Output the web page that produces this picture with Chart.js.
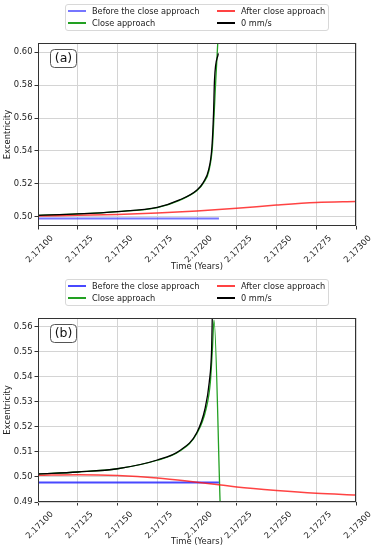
<!DOCTYPE html>
<html>
<head>
<meta charset="utf-8">
<script src="https://cdn.jsdelivr.net/npm/chart.js@4.4.0/dist/chart.umd.min.js"></script>
<style>
  body { margin: 0; background: #fff; font-family: 'DejaVu Sans', sans-serif; }
  .panel { position: absolute; left: 0; width: 371px; height: 275px; }
  .panel canvas { position: absolute; left: 0; top: 0; }
  .legend {
    position: absolute; left: 65px; top: 4px; width: 264px; height: 27px;
    box-sizing: border-box; border: 1px solid #d8d8d8; border-radius: 3px;
    background: rgba(255,255,255,0.85); padding: 0 0 0 2px;
    display: grid; grid-template-columns: 149px auto; grid-template-rows: 12px 12px;
    grid-auto-flow: column; font-size: 8.2px; color: #222; z-index: 2;
  }
  .legend .item { display: flex; align-items: center; white-space: nowrap; }
  .legend i { display: inline-block; width: 18px; height: 1.5px; margin-right: 6px; }
</style>
</head>
<body>
<div class="panel" style="top:0"><div class="legend" id="legA"></div><canvas id="chartA" width="371" height="275"></canvas></div>
<div class="panel" style="top:275px"><div class="legend" id="legB"></div><canvas id="chartB" width="371" height="275"></canvas></div>
<script>
// tick labels
const xTicks = [2.17100, 2.17125, 2.17150, 2.17175, 2.17200, 2.17225, 2.17250, 2.17275, 2.17300];
const yTicksA = [0.50, 0.52, 0.54, 0.56, 0.58, 0.60];
const yTicksB = [0.49, 0.50, 0.51, 0.52, 0.53, 0.54, 0.55, 0.56];

// (a)
const tBeforeA = [2.17100, 2.17150, 2.17200, 2.172138];
const eBeforeA = [0.4990, 0.4990, 0.4990, 0.4990];
const tCloseA = [2.17100, 2.17125, 2.17150, 2.17175, 2.17189, 2.17200, 2.17204, 2.172075, 2.172097, 2.172108, 2.172118, 2.172136];
const eCloseA = [0.5010, 0.5018, 0.5032, 0.5057, 0.5101, 0.5160, 0.5205, 0.5280, 0.5426, 0.5628, 0.5830, 0.6150];
const tAfterA = [2.17100, 2.17125, 2.17150, 2.17175, 2.17200, 2.17225, 2.17250, 2.17275, 2.17300];
const eAfterA = [0.5005, 0.5010, 0.5015, 0.5024, 0.5036, 0.5052, 0.5072, 0.5088, 0.5094];
const tZeroA = [2.17100, 2.17125, 2.17150, 2.17175, 2.17189, 2.17200, 2.17204, 2.172073, 2.172094, 2.172104, 2.17211, 2.172134];
const eZeroA = [0.5010, 0.5018, 0.5032, 0.5058, 0.5103, 0.5164, 0.5210, 0.5285, 0.5426, 0.5628, 0.5830, 0.5992];

// (b)
const tBeforeB = [2.17100, 2.17150, 2.17200, 2.172138];
const eBeforeB = [0.4978, 0.4978, 0.4978, 0.4978];
const tCloseB = [2.17100, 2.17125, 2.17150, 2.17175, 2.17189, 2.17200, 2.172057, 2.172084, 2.172097, 2.172107, 2.172146];
const eCloseB = [0.5012, 0.5020, 0.5033, 0.5067, 0.5103, 0.5175, 0.5272, 0.5379, 0.5512, 0.5627, 0.4885];
const tAfterB = [2.17100, 2.17125, 2.17150, 2.17175, 2.17200, 2.17215, 2.17225, 2.17250, 2.17275, 2.17300];
const eAfterB = [0.5007, 0.5009, 0.5006, 0.4996, 0.4979, 0.4968, 0.4960, 0.4946, 0.4935, 0.4928];
const tZeroB = [2.17100, 2.17125, 2.17150, 2.17175, 2.17189, 2.17200, 2.17205, 2.172077, 2.172092, 2.172096, 2.17210];
const eZeroB = [0.5012, 0.5020, 0.5033, 0.5068, 0.5105, 0.5179, 0.5272, 0.5379, 0.5512, 0.5636, 0.5700];

Chart.defaults.font.family = "'DejaVu Sans', sans-serif";
Chart.defaults.font.size = 8.4;
Chart.defaults.color = '#222';

const pts = (t, e) => t.map((x, i) => ({x: x, y: e[i]}));

function series(tb, eb, tc, ec, ta, ea, tz, ez, blueCol) {
  const base = {pointRadius: 0, borderWidth: 1.3, cubicInterpolationMode: 'monotone', fill: false};
  return [
    {...base, label: 'Before the close approach', data: pts(tb, eb), borderColor: blueCol, borderWidth: 2, order: 4},
    {...base, label: 'Close approach', data: pts(tc, ec), borderColor: '#22a022', order: 3},
    {...base, label: 'After close approach', data: pts(ta, ea), borderColor: 'rgba(255,20,20,0.8)', borderWidth: 1.5, order: 2},
    {...base, label: '0 mm/s', data: pts(tz, ez), borderColor: '#000', order: 1}
  ];
}

const frame = {
  id: 'frame',
  afterDatasetsDraw(chart) {
    const a = chart.chartArea, ctx = chart.ctx;
    ctx.save();
    ctx.strokeStyle = '#333';
    ctx.lineWidth = 1;
    ctx.strokeRect(Math.round(a.left) + 0.5, Math.round(a.top) + 0.5,
      Math.round(a.right - a.left) - 1, Math.round(a.bottom - a.top) - 1);
    ctx.restore();
  }
};

const panelTag = {
  id: 'panelTag',
  afterDraw(chart, args, opts) {
    const {ctx, chartArea} = chart;
    const x = chartArea.left + 12.5, y = chartArea.top + 6.5;
    ctx.save();
    ctx.beginPath();
    ctx.roundRect(x, y, 26, 18, 4);
    ctx.fillStyle = '#fff';
    ctx.fill();
    ctx.strokeStyle = '#555';
    ctx.lineWidth = 1;
    ctx.stroke();
    ctx.fillStyle = '#111';
    ctx.font = "12.5px 'DejaVu Sans'";
    ctx.textAlign = 'center';
    ctx.textBaseline = 'middle';
    ctx.fillText(opts.text, x + 13, y + 9.5);
    ctx.restore();
  }
};

function makeChart(id, legId, datasets, yMin, yMax, yTicks, tag, xHeight) {
  const chart = new Chart(document.getElementById(id), {
    type: 'line',
    data: {datasets: datasets},
    options: {
      responsive: false,
      animation: false,
      layout: {padding: {top: 43, right: 15, left: 0, bottom: 0}},
      plugins: {legend: {display: false}, tooltip: {enabled: false}, panelTag: {text: tag}},
      scales: {
        x: {
          type: 'linear', min: 2.171, max: 2.173,
          afterBuildTicks: s => { s.ticks = xTicks.map(v => ({value: v})); },
          ticks: {minRotation: 45, maxRotation: 45, autoSkip: false, labelOffset: 14, padding: 4,
                  callback: v => v.toFixed(5)},
          grid: {color: '#d4d4d4', tickColor: '#333', tickLength: 3.5},
          border: {display: false},
          title: {display: true, text: 'Time (Years)', padding: {top: 0, bottom: 3}},
          afterFit: s => { s.height = xHeight; }
        },
        y: {
          min: yMin, max: yMax,
          afterBuildTicks: s => { s.ticks = yTicks.map(v => ({value: v})); },
          ticks: {padding: 2, callback: v => v.toFixed(2)},
          grid: {color: '#d4d4d4', tickColor: '#333', tickLength: 3.5},
          border: {display: false},
          title: {display: true, text: 'Excentricity', padding: {top: 3, bottom: 2}},
          afterFit: s => { s.width = 38; }
        }
      }
    },
    plugins: [frame, panelTag]
  });
  // html legend from the chart's datasets, two columns
  const leg = document.getElementById(legId);
  chart.data.datasets.forEach(d => {
    const item = document.createElement('span');
    item.className = 'item';
    item.innerHTML = '<i style="background:' + d.borderColor + '"></i>' + d.label;
    leg.appendChild(item);
  });
  return chart;
}

makeChart('chartA', 'legA',
  series(tBeforeA, eBeforeA, tCloseA, eCloseA, tAfterA, eAfterA, tZeroA, eZeroA, 'rgba(60,60,255,0.7)'),
  0.4945, 0.6055, yTicksA, '(a)', 49);
makeChart('chartB', 'legB',
  series(tBeforeB, eBeforeB, tCloseB, eCloseB, tAfterB, eAfterB, tZeroB, eZeroB, 'rgba(40,40,255,0.85)'),
  0.49, 0.5636, yTicksB, '(b)', 48);
</script>
</body>
</html>
